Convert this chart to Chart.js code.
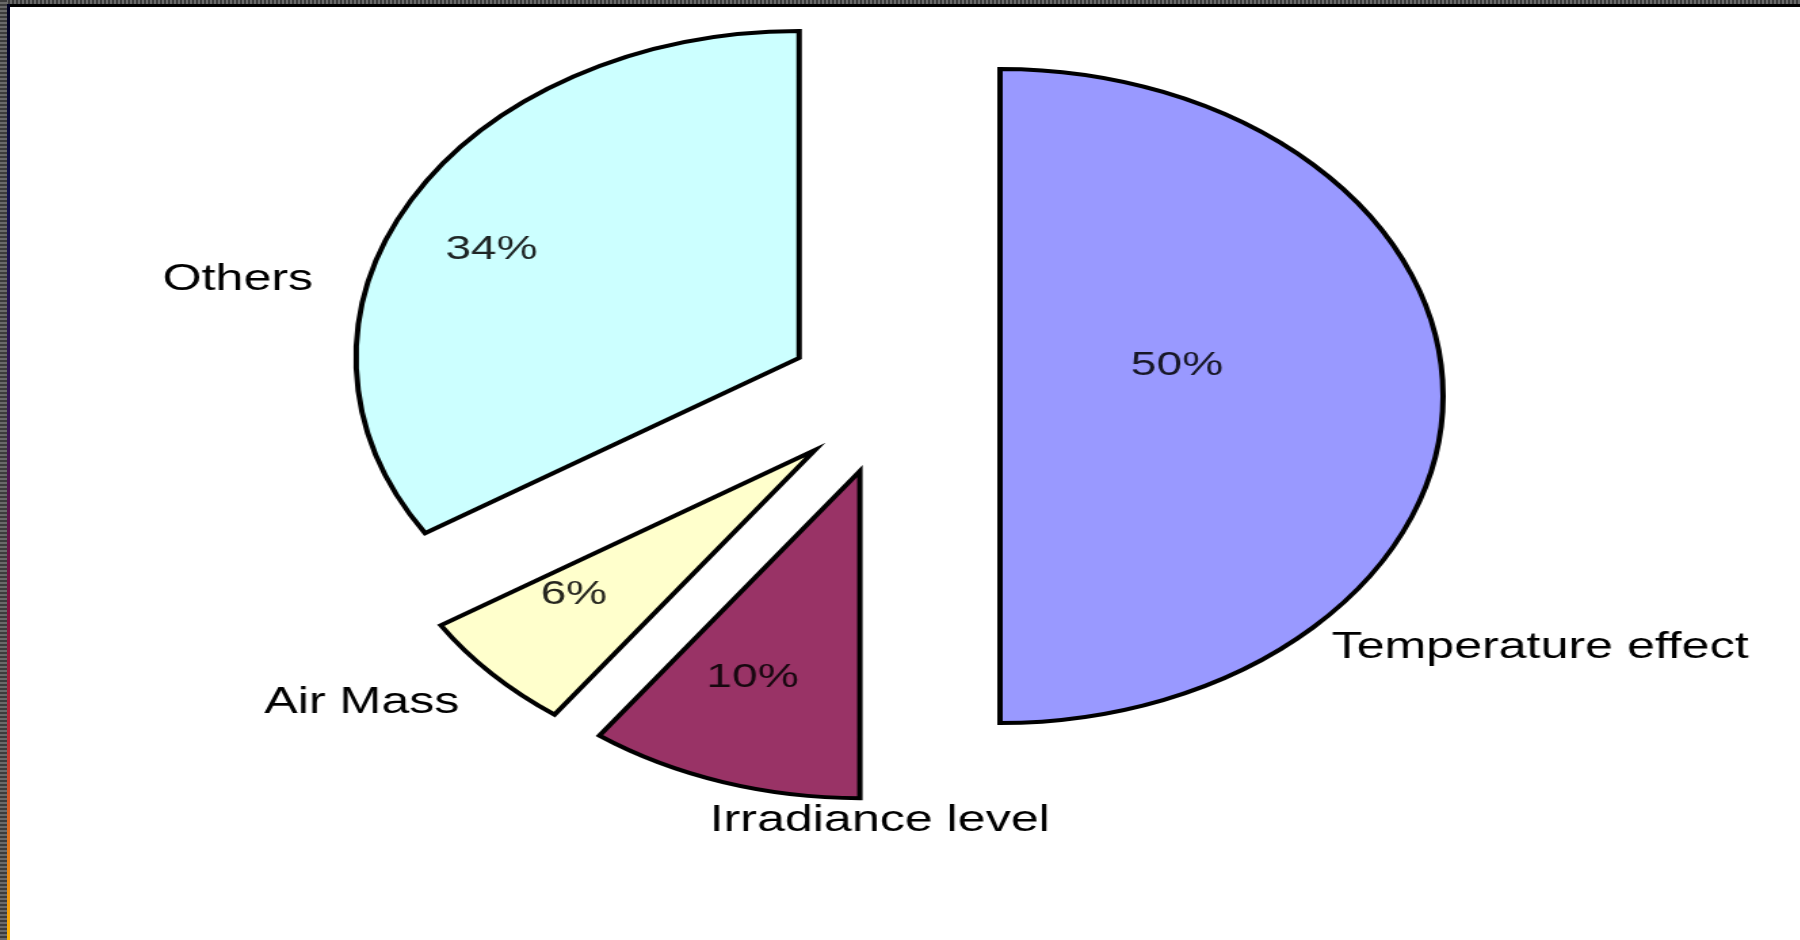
<!DOCTYPE html>
<html>
<head>
<meta charset="utf-8">
<title>Loss factors</title>
<script src="https://cdn.jsdelivr.net/npm/chart.js@4.4.1/dist/chart.umd.min.js"></script>
<style>
  html, body { margin: 0; padding: 0; background: #fff; }
  body { width: 1800px; height: 940px; position: relative; overflow: hidden; }
  /* window frame: textured strip on top and left, thin line inside it */
  .frame-top { position: absolute; left: 0; top: 0; width: 1800px; height: 4px;
    background: repeating-linear-gradient(90deg, #3c3c3c 0 2px, #6a6a6a 2px 4px); }
  .frame-top-line { position: absolute; left: 7px; top: 4px; width: 1793px; height: 3px; background: #000; }
  .frame-left { position: absolute; left: 0; top: 0; width: 7px; height: 940px;
    background: repeating-linear-gradient(180deg, #3c3c3c 0 2px, #6a6a6a 2px 4px); }
  .frame-left-line { position: absolute; left: 7px; top: 4px; width: 3px; height: 936px;
    background: linear-gradient(180deg, #000022 0%, #101050 20%, #3a1458 45%, #8a1040 65%, #c02838 78%, #e06a20 88%, #ffb400 100%); }
  #wrap { position: absolute; left: 0; top: 0; transform: scaleX(1.355); transform-origin: 0 0; }
  #lossChart { display: block; }
</style>
</head>
<body>
<div class="frame-top"></div>
<div class="frame-left"></div>
<div class="frame-top-line"></div>
<div class="frame-left-line"></div>
<div id="wrap"><canvas id="lossChart" width="1328" height="940"></canvas></div>
<script>
const categories = ['Temperature effect', 'Irradiance level', 'Air Mass', 'Others'];
const shares = [50, 10, 6, 34];
const sliceColors = ['#9999FF', '#993366', '#FFFFCC', '#CCFFFF'];

// every slice is pulled out from the centre by the same distance
const explodeBy = 79;
// label placement: [fraction of radius from the slice's own centre, angle shift in degrees]
const pctPlace = [[0.41, -13], [0.676, 3], [0.70, 4.2], [0.77, -3.2]];
const namePlace = [[1.442, 32.3], [1.069, -20.4], [1.282, 6.1], [1.289, -18.15]];

const labelFont = '37px "Liberation Sans", Arial, sans-serif';
const pctFont = '34px "Liberation Sans", Arial, sans-serif';

const explodePlugin = {
    id: 'explodeSlices',
    beforeDatasetDraw(chart, args) {
        const ctx = chart.ctx;
        args.meta.data.forEach(arc => {
            const mid = (arc.startAngle + arc.endAngle) / 2;
            ctx.save();
            ctx.translate(Math.cos(mid) * explodeBy, Math.sin(mid) * explodeBy);
            arc.draw(ctx);
            ctx.restore();
        });
        return false; // slices already drawn above
    }
};

const labelPlugin = {
    id: 'sliceLabels',
    afterDatasetsDraw(chart) {
        const ctx = chart.ctx;
        const arcs = chart.getDatasetMeta(0).data;
        ctx.save();
        ctx.textAlign = 'center';
        ctx.textBaseline = 'middle';
        arcs.forEach((arc, i) => {
            const mid = (arc.startAngle + arc.endAngle) / 2;
            const r = arc.outerRadius;
            const ox = arc.x + Math.cos(mid) * explodeBy;
            const oy = arc.y + Math.sin(mid) * explodeBy;

            const pa = mid + pctPlace[i][1] * Math.PI / 180;
            ctx.font = pctFont;
            ctx.fillStyle = 'rgba(0,0,0,0.85)';
            ctx.fillText(shares[i] + '%', ox + Math.cos(pa) * r * pctPlace[i][0], oy + Math.sin(pa) * r * pctPlace[i][0]);

            const na = mid + namePlace[i][1] * Math.PI / 180;
            ctx.font = labelFont;
            ctx.fillStyle = '#000';
            ctx.fillText(categories[i], ox + Math.cos(na) * r * namePlace[i][0], oy + Math.sin(na) * r * namePlace[i][0]);
        });
        ctx.restore();
    }
};

const lossChart = new Chart(document.getElementById('lossChart'), {
    type: 'pie',
    data: {
        labels: categories,
        datasets: [{
            data: shares,
            backgroundColor: sliceColors,
            borderColor: '#000',
            borderWidth: 4,
            borderJoinStyle: 'miter'
        }]
    },
    options: {
        responsive: false,
        animation: false,
        devicePixelRatio: 1,
        radius: 327,
        layout: { padding: { left: 0, right: 10, top: 0, bottom: 148 } },
        events: [],
        plugins: {
            legend: { display: false },
            tooltip: { enabled: false }
        }
    },
    plugins: [explodePlugin, labelPlugin]
});
</script>
</body>
</html>
